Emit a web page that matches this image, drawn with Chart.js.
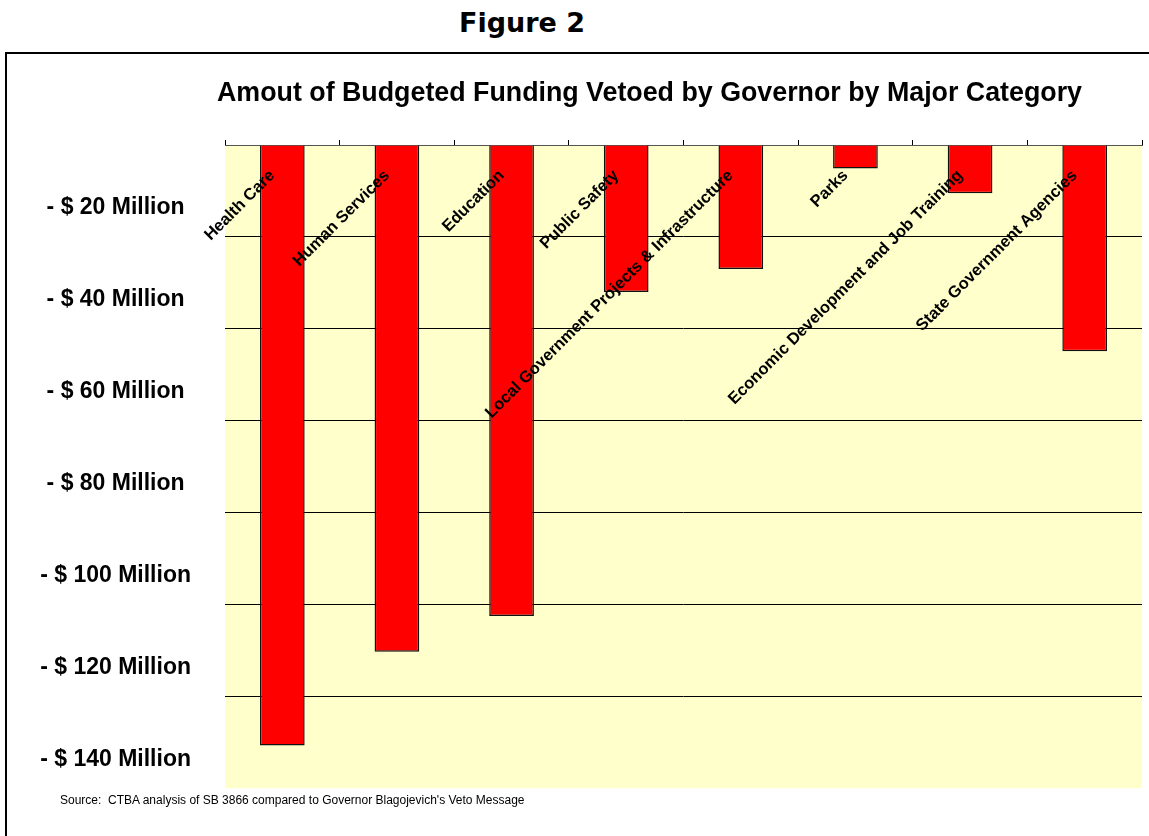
<!DOCTYPE html>
<html>
<head>
<meta charset="utf-8">
<script src="https://cdn.jsdelivr.net/npm/chart.js@4"></script>
<style>
  html, body { margin: 0; padding: 0; background: #fff; overflow: hidden; }
  body { width: 1149px; height: 836px; position: relative; font-family: "Liberation Sans", Arial, sans-serif; }
  #fig { position: absolute; left: 459px; top: 7px; font: bold 27px/32px "DejaVu Sans", sans-serif; color: #000; white-space: nowrap; }
  #box { position: absolute; left: 5px; top: 52px; right: -20px; bottom: -20px; border: 2px solid #000; }
  #title { position: absolute; left: 217px; top: 76px; font: bold 26.8px/32px "Liberation Sans", Arial, sans-serif; white-space: nowrap; }
  #source { position: absolute; left: 60px; top: 793px; font: 12px/14px "Liberation Sans", Arial, sans-serif; white-space: nowrap; }
  #wrap { position: absolute; left: 0; top: 0; width: 1149px; height: 836px; }
</style>
</head>
<body>
<div id="fig">Figure 2</div>
<div id="box"></div>
<div id="wrap"><canvas id="myChart"></canvas></div>
<div id="title">Amout of Budgeted Funding Vetoed by Governor by Major Category</div>
<div id="source">Source:&nbsp; CTBA analysis of SB 3866 compared to Governor Blagojevich's Veto Message</div>
<script>
// data (millions of dollars vetoed)
const categories = [
    'Health Care',
    'Human Services',
    'Education',
    'Public Safety',
    'Local Government Projects & Infrastructure',
    'Parks',
    'Economic Development and Job Training',
    'State Government Agencies'
]
const vetoed = [-130.7, -110.3, -102.5, -32, -27, -5.1, -10.5, -44.9]
const yTickValues = [0, -20, -40, -60, -80, -100, -120, -140]
const yTickLabels = ['', '- $ 20 Million', '- $ 40 Million', '- $ 60 Million', '- $ 80 Million', '- $ 100 Million', '- $ 120 Million', '- $ 140 Million']

// yellow plot background
const plotBackground = {
    id: 'plotBackground',
    beforeDraw(chart) {
        const {ctx, chartArea: a} = chart
        ctx.save()
        ctx.fillStyle = '#ffffcc'
        ctx.fillRect(a.left, a.top, a.right - a.left, a.bottom - a.top)
        ctx.restore()
    }
}

// slanted category names sitting over the bars
const slantedLabels = {
    id: 'slantedLabels',
    afterDatasetsDraw(chart) {
        const {ctx, chartArea} = chart
        const x = chart.scales.x
        ctx.save()
        ctx.font = 'bold 16.5px "Liberation Sans", Arial, sans-serif'
        ctx.fillStyle = '#000'
        ctx.textAlign = 'right'
        ctx.textBaseline = 'middle'
        categories.forEach((c, i) => {
            ctx.save()
            ctx.translate(x.getPixelForValue(i) - 10, chartArea.top + 28)
            ctx.rotate(-Math.PI / 4)
            ctx.fillText(c, 0, 0)
            ctx.restore()
        })
        ctx.restore()
    }
}

new Chart(document.getElementById('myChart'), {
    type: 'bar',
    data: {
        labels: categories,
        datasets: [{
            data: vetoed,
            backgroundColor: '#ff0000',
            borderColor: '#111',
            borderWidth: 1.5,
            borderSkipped: 'start',
            barPercentage: 0.39,
            categoryPercentage: 1
        }]
    },
    options: {
        responsive: true,
        maintainAspectRatio: false,
        animation: false,
        layout: {
            padding: { top: 140, right: 7, bottom: 44, left: 0 }
        },
        scales: {
            x: {
                position: 'top',
                grid: {
                    offset: true,
                    drawOnChartArea: false,
                    tickLength: 5,
                    color: '#000'
                },
                border: { color: '#555' },
                ticks: { display: false }
            },
            y: {
                min: -140,
                max: 0,
                afterBuildTicks: (scale) => {
                    scale.ticks = yTickValues.map(v => ({value: v}))
                },
                afterFit: (scale) => { scale.width = 225 },
                border: { display: false },
                grid: {
                    drawTicks: false,
                    color: (c) => (c.tick && (c.tick.value === 0 || c.tick.value === -140)) ? 'rgba(0,0,0,0)' : '#000',
                    lineWidth: 1
                },
                ticks: {
                    padding: 34,
                    crossAlign: 'center',
                    labelOffset: -29,
                    color: '#000',
                    font: { family: '"Liberation Sans", Arial, sans-serif', size: 23, weight: 'bold' },
                    callback: (v) => yTickLabels[yTickValues.indexOf(v)]
                }
            }
        },
        plugins: {
            legend: { display: false },
            tooltip: { enabled: false }
        }
    },
    plugins: [plotBackground, slantedLabels]
})
</script>
</body>
</html>
